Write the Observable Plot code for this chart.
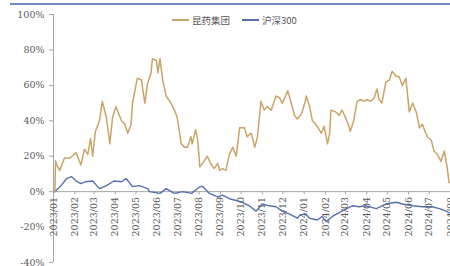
<!DOCTYPE html>
<html>
<head>
<meta charset="utf-8">
<script src="https://cdn.jsdelivr.net/npm/d3@7"></script>
<script src="https://cdn.jsdelivr.net/npm/@observablehq/plot@0.6"></script>
<style>
  html, body { margin: 0; padding: 0; background: #fff; }
  #wrap { position: relative; width: 450px; height: 266px; overflow: hidden; }
  #topbar { position: absolute; left: 10px; top: 3px; width: 440px; height: 2px; background: #6f89c3; }
  #legend { position: absolute; left: 172px; top: 13px; font-family: "Noto Sans CJK SC", sans-serif; font-size: 9.5px; color: #555; display: flex; align-items: center; white-space: nowrap; }
  #legend .sw { display: inline-block; width: 17px; height: 2px; margin-right: 3px; }
  #legend .item { display: flex; align-items: center; margin-right: 12px; }
  svg text { font-family: "DejaVu Serif", serif; }
</style>
</head>
<body>
<div id="wrap"><div id="topbar"></div><div id="legend"></div></div>
<script>
const seriesNames = ["昆药集团", "沪深300"];
const seriesColors = ["#c9a466", "#5570ad"];

const stockDates = ["2023-01-03","2023-01-04","2023-01-06","2023-01-10","2023-01-17","2023-01-25","2023-02-03","2023-02-10","2023-02-15","2023-02-20","2023-02-24","2023-02-27","2023-03-03","2023-03-09","2023-03-13","2023-03-19","2023-03-24","2023-03-28","2023-04-02","2023-04-04","2023-04-10","2023-04-15","2023-04-19","2023-04-24","2023-04-26","2023-05-03","2023-05-09","2023-05-14","2023-05-18","2023-05-23","2023-05-25","2023-05-31","2023-06-02","2023-06-05","2023-06-09","2023-06-14","2023-06-21","2023-06-26","2023-06-30","2023-07-06","2023-07-11","2023-07-15","2023-07-20","2023-07-22","2023-07-27","2023-07-30","2023-08-02","2023-08-06","2023-08-13","2023-08-19","2023-08-23","2023-08-28","2023-08-31","2023-09-04","2023-09-09","2023-09-14","2023-09-19","2023-09-24","2023-09-29","2023-10-06","2023-10-10","2023-10-16","2023-10-21","2023-10-25","2023-10-30","2023-11-04","2023-11-08","2023-11-14","2023-11-21","2023-11-26","2023-11-30","2023-12-06","2023-12-08","2023-12-13","2023-12-18","2023-12-22","2023-12-28","2024-01-02","2024-01-04","2024-01-09","2024-01-13","2024-01-18","2024-01-26","2024-01-30","2024-02-02","2024-02-04","2024-02-07","2024-02-09","2024-02-16","2024-02-21","2024-02-25","2024-03-01","2024-03-06","2024-03-08","2024-03-13","2024-03-18","2024-03-23","2024-03-28","2024-04-01","2024-04-07","2024-04-12","2024-04-16","2024-04-19","2024-04-23","2024-04-29","2024-05-04","2024-05-08","2024-05-14","2024-05-18","2024-05-23","2024-05-28","2024-06-02","2024-06-07","2024-06-12","2024-06-17","2024-06-21","2024-06-28","2024-07-04","2024-07-08","2024-07-13","2024-07-18","2024-07-23","2024-07-27","2024-07-30"];
const stockValues = [0,17.5,15,12,19,19,22,15,24,21,30,20,34,40,51,42,27,42,48,46,40,38,33,38,50,64,63,50,61,67,75,74,67,75,63,54,50,46,42,27,25,25,31,27,35,29,14,16,20,15,13,16,12,13,12,21,25,20,36,36,31,33,25,31,51,46,48,46,54,53,50,55,57,50,43,41,44,50,54,48,40,38,33,37,31,27,33,46,45,43,46,42,37,34,40,51,52,51,52,51,53,58,52,50,62,63,68,65,65,60,64,45,50,45,36,38,31,29,23,21,17,23,14,5];

const indexDates = ["2023-01-03","2023-01-12","2023-01-20","2023-01-27","2023-02-03","2023-02-10","2023-02-17","2023-02-27","2023-03-09","2023-03-19","2023-03-30","2023-04-10","2023-04-17","2023-04-26","2023-05-06","2023-05-18","2023-05-21","2023-06-05","2023-06-14","2023-06-26","2023-07-08","2023-07-21","2023-08-02","2023-08-06","2023-08-16","2023-08-28","2023-09-04","2023-09-14","2023-09-24","2023-10-03","2023-10-13","2023-10-23","2023-11-01","2023-11-11","2023-11-21","2023-11-30","2023-12-10","2023-12-22","2023-12-25","2024-01-02","2024-01-09","2024-01-20","2024-01-27","2024-02-02","2024-02-11","2024-02-25","2024-03-11","2024-03-21","2024-03-31","2024-04-15","2024-04-29","2024-05-14","2024-05-23","2024-06-07","2024-06-21","2024-07-05","2024-07-16","2024-07-26","2024-07-30"];
const indexValues = [0,3.4,7.3,8.5,6,4.5,5.6,6,1.7,3.4,6,5.6,7.3,2.8,3.4,1.7,0,-1,1.7,-1,0,-1,2.8,3,-1,-3,-2,-4,-5,-6,-8,-11,-7,-8,-8.5,-11,-12.5,-15,-13.5,-12.5,-15,-16,-14,-17,-14,-11,-8,-8.5,-8,-9.6,-7,-6,-7,-8,-8.5,-8.5,-9.6,-11,-12];

const monthTicks = ["2023-01-01","2023-02-01","2023-03-01","2023-04-01","2023-05-01","2023-06-01","2023-07-01","2023-08-01","2023-09-01","2023-10-01","2023-11-01","2023-12-01","2024-01-01","2024-02-01","2024-03-01","2024-04-01","2024-05-01","2024-06-01","2024-07-01","2024-08-01"];
const yTicks = [-40, -20, 0, 20, 40, 60, 80, 100];

const parse = d3.utcParse("%Y-%m-%d");
const stock = stockDates.map((d, i) => ({date: parse(d), value: stockValues[i]}));
const index = indexDates.map((d, i) => ({date: parse(d), value: indexValues[i]}));
const months = monthTicks.map(parse);
const fmt = d3.utcFormat("%Y/%m");

const axisColor = "#a6a6a6";
const textColor = "#595959";
const font = "'DejaVu Serif', serif";

const chart = Plot.plot({
  width: 450,
  height: 266,
  marginLeft: 53,
  marginRight: 0,
  marginTop: 14,
  marginBottom: 4,
  x: {type: "utc", domain: [months[0], months[months.length - 1]], axis: null},
  y: {domain: [-40, 100], axis: null},
  style: {fontFamily: font, background: "transparent", overflow: "visible"},
  marks: [
    Plot.axisY({ticks: yTicks, label: null, tickFormat: d => d + "%", tickSize: 4, tickPadding: 5, stroke: axisColor, fill: textColor, fontSize: 9.5}),
    Plot.ruleX([months[0]], {y1: -40, y2: 100, stroke: axisColor}),
    Plot.ruleY([0], {stroke: axisColor}),
    Plot.ruleX(months, {x: d => d, y1: 0, y2: -1.8, stroke: axisColor}),
    Plot.text(months, {x: d => d, y: -3, text: d => fmt(d), rotate: -90, textAnchor: "end", lineAnchor: "middle", fill: textColor, fontSize: 9.5}),
    Plot.line(index, {x: "date", y: "value", stroke: seriesColors[1], strokeWidth: 1.4}),
    Plot.line(stock, {x: "date", y: "value", stroke: seriesColors[0], strokeWidth: 1.5})
  ]
});
chart.style.position = "absolute";
chart.style.left = "0";
chart.style.top = "0";
const wrap = document.getElementById("wrap");
wrap.insertBefore(chart, wrap.firstChild);

const legend = document.getElementById("legend");
seriesNames.forEach((name, i) => {
  const item = document.createElement("span");
  item.className = "item";
  const sw = document.createElement("span");
  sw.className = "sw";
  sw.style.background = seriesColors[i];
  item.appendChild(sw);
  item.appendChild(document.createTextNode(name));
  legend.appendChild(item);
});
</script>
</body>
</html>
